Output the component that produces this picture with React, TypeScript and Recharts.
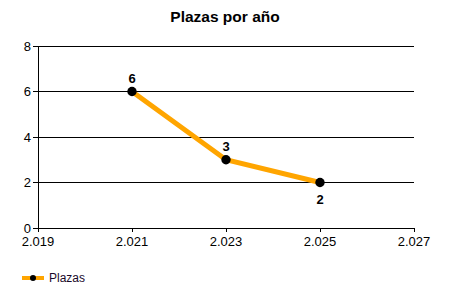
import React from 'react';
import { LineChart, Line, XAxis, YAxis, CartesianGrid, Legend, LabelList } from 'recharts';

const years = [2021, 2023, 2025];
const plazas = [6, 3, 2];
const xTicks = [2019, 2021, 2023, 2025, 2027];
const yTicks = [0, 2, 4, 6, 8];

const data = years.map((year, i) => ({ year, plazas: plazas[i] }));

const FONT = '"Liberation Sans", Arial, sans-serif';

// 2019 -> "2.019" (separador de miles en español)
const fmtYear = (v: number) => {
  const s = String(v);
  return s.length > 3 ? s.slice(0, s.length - 3) + '.' + s.slice(-3) : s;
};

function PointLabel(props: any) {
  const { x, y, value, index } = props;
  const below = index === data.length - 1;
  return (
    <text
      x={x}
      y={below ? y + 21 : y - 9}
      textAnchor="middle"
      fontFamily={FONT}
      fontSize={13}
      fontWeight="bold"
      fill="#000"
    >
      {value}
    </text>
  );
}

function LegendContent() {
  return (
    <svg width={120} height={16}>
      <line x1={2} y1={8} x2={24} y2={8} stroke="#FFA500" strokeWidth={4} />
      <circle cx={13} cy={8} r={3} fill="#000" />
      <text x={29} y={12} fontFamily={FONT} fontSize={12} fill="#1a0a2a">
        Plazas
      </text>
    </svg>
  );
}

export default function App() {
  return (
    <div style={{ position: 'absolute', left: 0, top: 0, width: 450, height: 300, background: '#fff' }}>
      <div
        style={{
          position: 'absolute',
          left: 0,
          top: 8,
          width: 450,
          textAlign: 'center',
          fontFamily: FONT,
          fontWeight: 'bold',
          fontSize: 15.5,
          color: '#000',
        }}
      >
        Plazas por año
      </div>
      <LineChart width={450} height={300} data={data} margin={{ top: 46, right: 36, bottom: 26, left: 0 }}>
        <CartesianGrid vertical={false} stroke="#000" strokeWidth={1} shapeRendering="crispEdges" />
        <XAxis
          dataKey="year"
          type="number"
          domain={[2019, 2027]}
          ticks={xTicks}
          tickFormatter={fmtYear}
          stroke="#000"
          tickSize={4}
          tickMargin={5}
          height={30}
          tick={{ fill: '#000', fontSize: 13, fontFamily: FONT }}
          axisLine={{ stroke: '#000', shapeRendering: 'crispEdges' }}
          tickLine={{ stroke: '#000', shapeRendering: 'crispEdges' }}
          interval={0}
        />
        <YAxis
          domain={[0, 8]}
          ticks={yTicks}
          stroke="#000"
          width={38}
          tickSize={5}
          tickMargin={2}
          tick={{ fill: '#000', fontSize: 13, fontFamily: FONT }}
          axisLine={{ stroke: '#000', shapeRendering: 'crispEdges' }}
          tickLine={{ stroke: '#000', shapeRendering: 'crispEdges' }}
          interval={0}
        />
        <Legend
          verticalAlign="bottom"
          align="left"
          content={<LegendContent />}
          wrapperStyle={{ left: 20, top: 270, width: 120, height: 16 }}
        />
        <Line
          dataKey="plazas"
          name="Plazas"
          stroke="#FFA500"
          strokeWidth={5}
          dot={{ r: 4.7, fill: '#000', stroke: '#000', strokeWidth: 0 }}
          activeDot={false}
          isAnimationActive={false}
        >
          <LabelList dataKey="plazas" content={<PointLabel />} />
        </Line>
      </LineChart>
    </div>
  );
}
